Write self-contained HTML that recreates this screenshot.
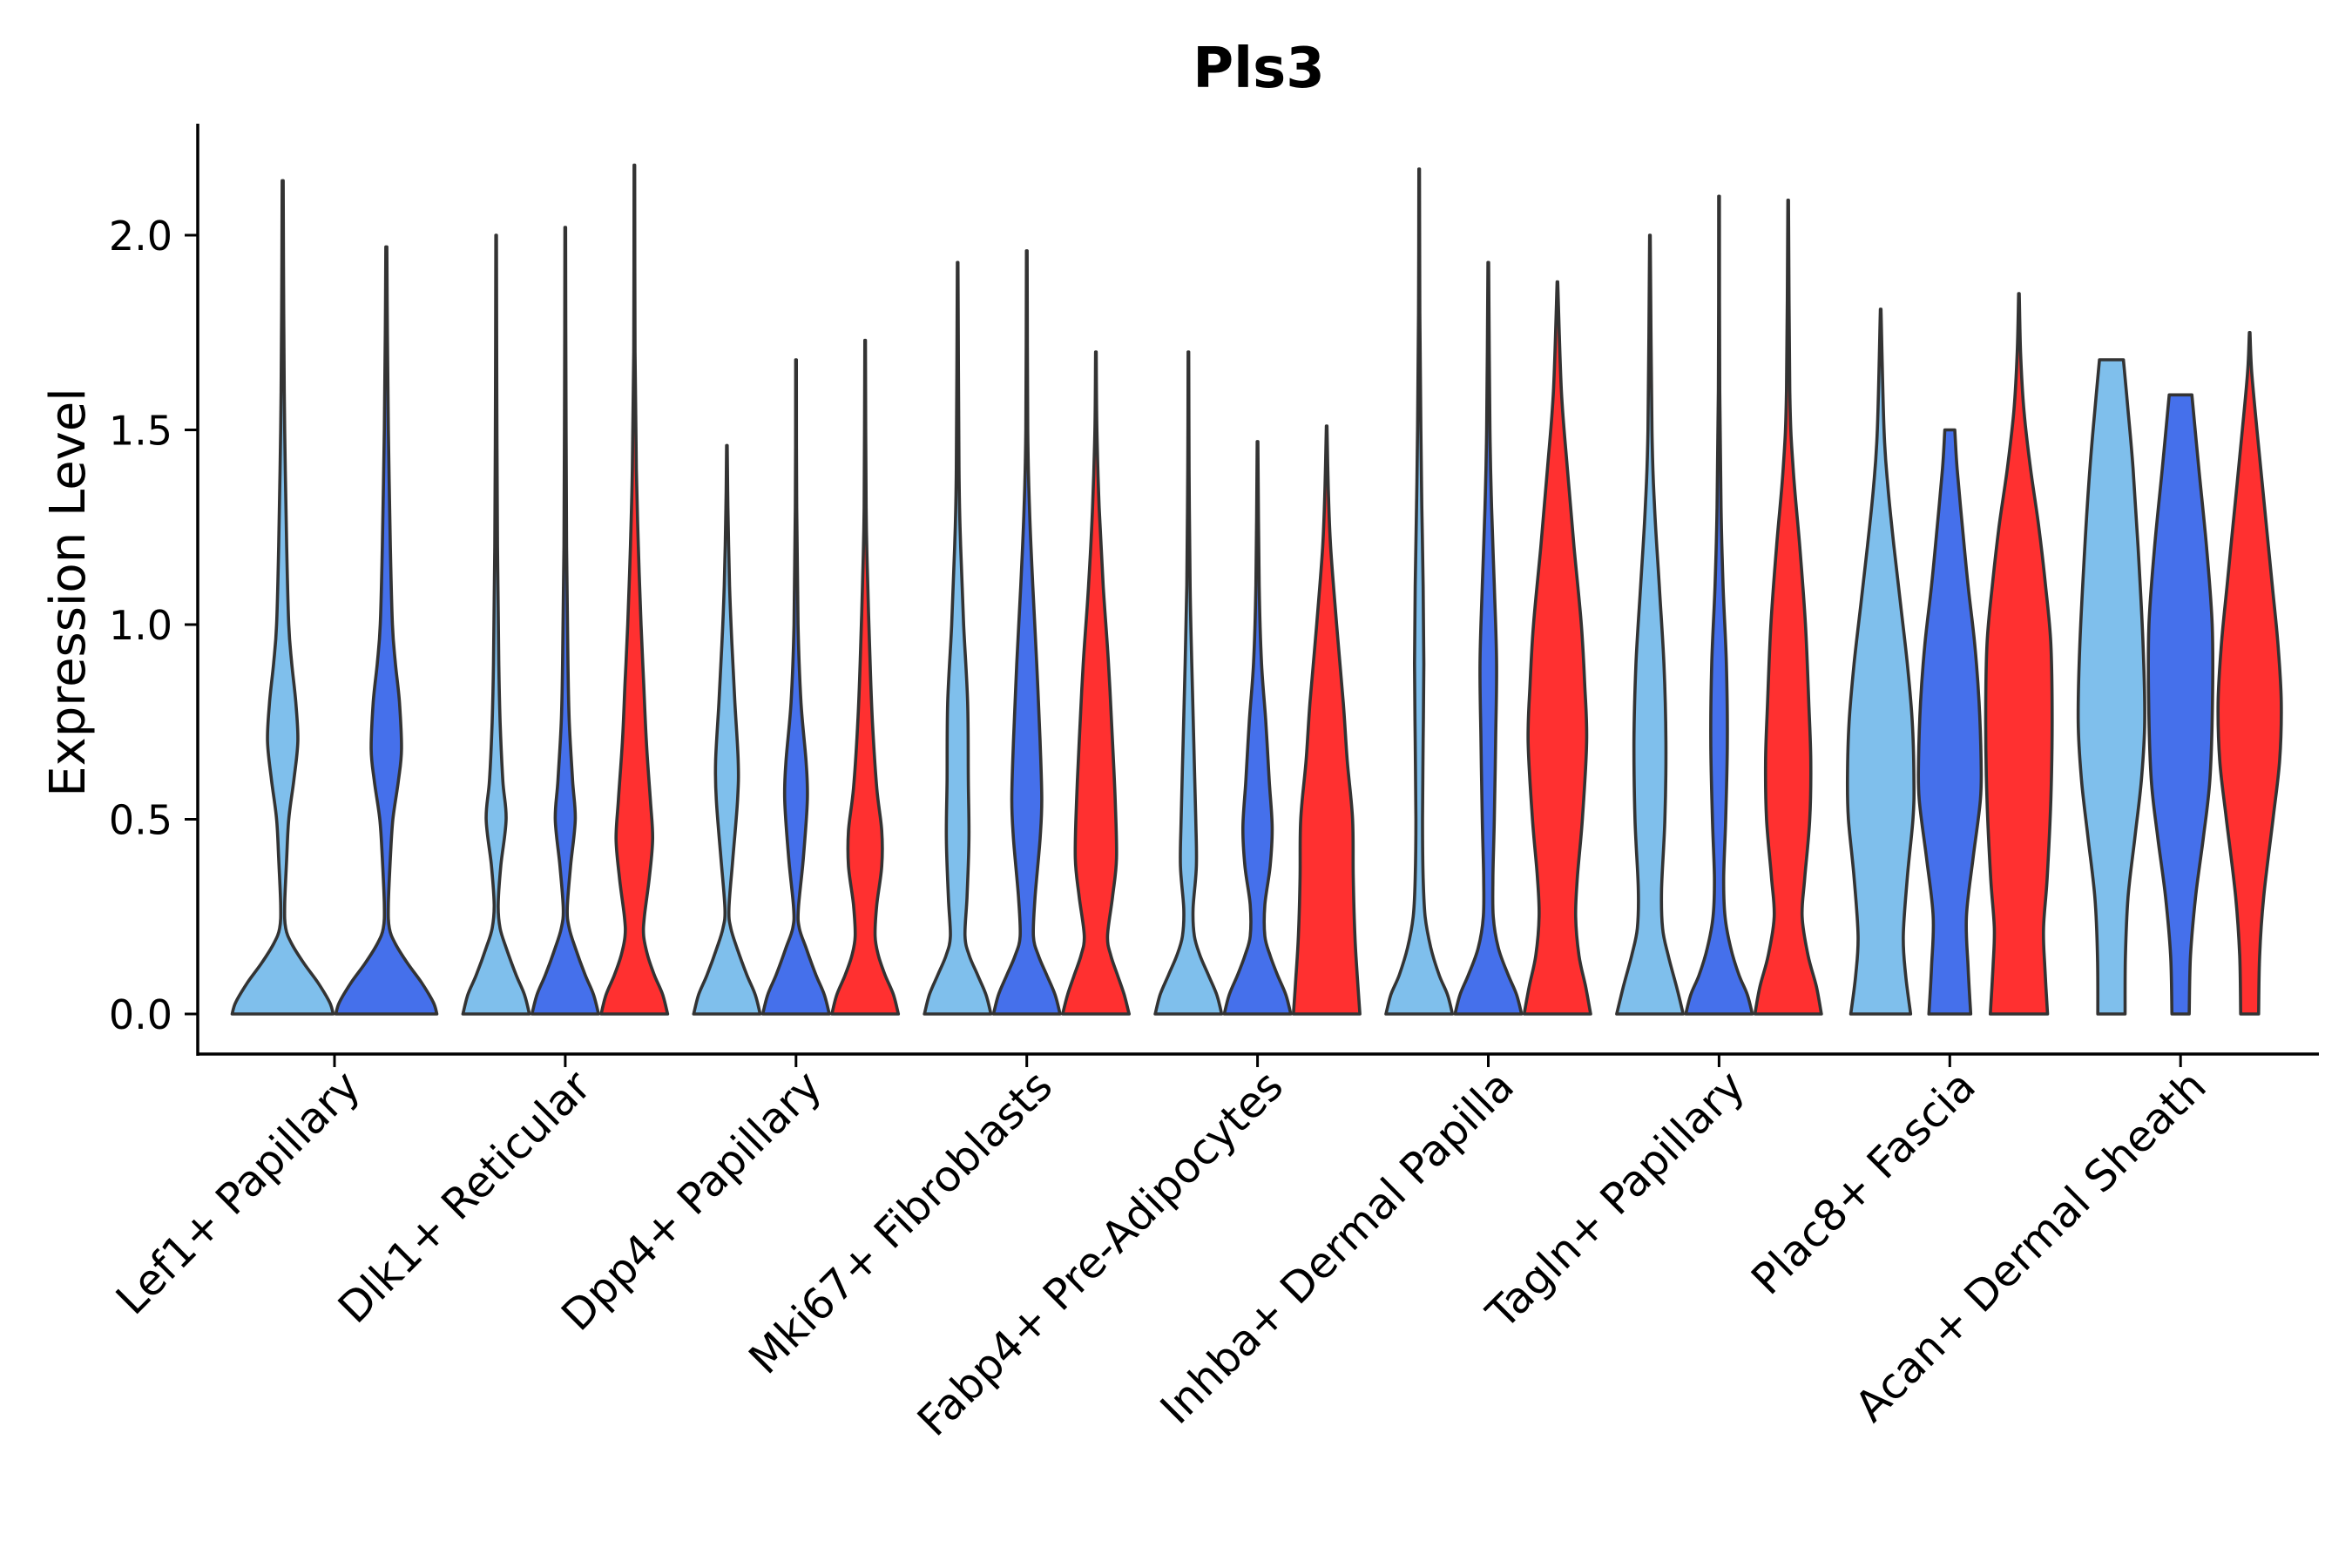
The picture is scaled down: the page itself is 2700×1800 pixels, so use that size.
<!DOCTYPE html>
<html><head><meta charset="utf-8"><style>
body{margin:0;background:#fff}
svg{display:block}
text{font-family:"DejaVu Sans","Liberation Sans",sans-serif;fill:#000}
</style></head><body>
<svg id="chart" width="2700" height="1800" viewBox="0 0 2700 1800" xmlns="http://www.w3.org/2000/svg">
<text x="1445" y="100" text-anchor="middle" font-size="64" font-weight="bold">Pls3</text>
<text transform="translate(97,680) rotate(-90)" text-anchor="middle" font-size="56">Expression Level</text>
<g id="violins"></g>
<g id="axes"></g>
</svg>
<script>
const categories = ["Lef1+ Papillary","Dlk1+ Reticular","Dpp4+ Papillary","Mki67+ Fibroblasts","Fabp4+ Pre-Adipocytes","Inhba+ Dermal Papilla","Tagln+ Papillary","Plac8+ Fascia","Acan+ Dermal Sheath"];
const seriesNames = ["light","dark","red"];
const yTicks = [0, 0.5, 1.0, 1.5, 2.0];
const yTickLabels = ["0.0","0.5","1.0","1.5","2.0"];
// profiles: [expression, relative half-width]
const lef1Light = [[0,1],[0.03,0.93],[0.08,0.7],[0.13,0.42],[0.18,0.18],[0.22,0.06],[0.28,0.04],[0.4,0.08],[0.5,0.12],[0.6,0.22],[0.7,0.3],[0.8,0.26],[0.9,0.18],[1.0,0.12],[1.2,0.08],[1.5,0.04],[1.8,0.02],[2.14,0.01]];
const lef1Dark = [[0,1],[0.03,0.93],[0.08,0.7],[0.13,0.42],[0.18,0.18],[0.22,0.06],[0.28,0.04],[0.4,0.08],[0.5,0.13],[0.6,0.24],[0.68,0.3],[0.8,0.26],[0.9,0.18],[1.0,0.12],[1.2,0.08],[1.5,0.04],[1.75,0.02],[1.97,0.01]];
const dlk1Light = [[0,1],[0.05,0.85],[0.1,0.6],[0.17,0.3],[0.22,0.12],[0.28,0.06],[0.38,0.14],[0.5,0.3],[0.6,0.2],[0.75,0.12],[0.9,0.08],[1.2,0.04],[1.6,0.02],[2.0,0.01]];
const dlk1Dark = [[0,1],[0.05,0.85],[0.1,0.6],[0.17,0.3],[0.22,0.12],[0.27,0.06],[0.38,0.16],[0.5,0.3],[0.6,0.22],[0.75,0.12],[0.9,0.08],[1.2,0.04],[1.6,0.02],[2.02,0.01]];
const dlk1Red = [[0,1],[0.05,0.85],[0.1,0.6],[0.15,0.4],[0.2,0.28],[0.25,0.3],[0.35,0.45],[0.45,0.55],[0.55,0.48],[0.7,0.36],[0.85,0.28],[1.0,0.2],[1.2,0.12],[1.4,0.06],[1.7,0.02],[2.18,0.01]];
const dpp4Light = [[0,1],[0.05,0.85],[0.1,0.6],[0.17,0.3],[0.22,0.12],[0.27,0.06],[0.4,0.18],[0.55,0.32],[0.65,0.34],[0.8,0.24],[0.95,0.15],[1.1,0.08],[1.3,0.03],[1.46,0.01]];
const dpp4Dark = [[0,1],[0.05,0.85],[0.1,0.6],[0.17,0.3],[0.22,0.1],[0.27,0.07],[0.4,0.22],[0.55,0.34],[0.65,0.3],[0.8,0.15],[1.0,0.06],[1.3,0.02],[1.68,0.01]];
const dpp4Red = [[0,1],[0.05,0.85],[0.1,0.6],[0.15,0.4],[0.2,0.3],[0.28,0.35],[0.38,0.5],[0.47,0.5],[0.58,0.35],[0.75,0.22],[0.9,0.15],[1.1,0.08],[1.3,0.03],[1.73,0.01]];
const mki67Light = [[0,1],[0.05,0.85],[0.1,0.6],[0.15,0.35],[0.2,0.22],[0.3,0.28],[0.45,0.34],[0.6,0.32],[0.8,0.3],[1.0,0.18],[1.2,0.09],[1.4,0.04],[1.93,0.01]];
const mki67Dark = [[0,1],[0.05,0.85],[0.1,0.6],[0.15,0.35],[0.2,0.2],[0.3,0.25],[0.45,0.4],[0.55,0.45],[0.7,0.4],[0.9,0.3],[1.1,0.18],[1.3,0.08],[1.5,0.03],[1.96,0.01]];
const mki67Red = [[0,1],[0.05,0.85],[0.1,0.65],[0.15,0.45],[0.2,0.35],[0.3,0.5],[0.4,0.62],[0.55,0.58],[0.7,0.5],[0.9,0.38],[1.1,0.22],[1.3,0.1],[1.5,0.03],[1.7,0.01]];
const fabp4Light = [[0,1],[0.05,0.85],[0.1,0.6],[0.15,0.35],[0.2,0.18],[0.27,0.14],[0.38,0.24],[0.5,0.22],[0.7,0.16],[0.9,0.1],[1.1,0.05],[1.4,0.02],[1.7,0.01]];
const fabp4Dark = [[0,1],[0.05,0.85],[0.1,0.6],[0.15,0.38],[0.2,0.22],[0.28,0.22],[0.38,0.38],[0.48,0.44],[0.6,0.35],[0.75,0.25],[0.9,0.12],[1.1,0.05],[1.47,0.01]];
const fabp4Red = [[0,1],[0.1,0.92],[0.2,0.85],[0.35,0.8],[0.5,0.78],[0.65,0.62],[0.8,0.5],[1.0,0.3],[1.2,0.12],[1.35,0.05],[1.51,0.01]];
const inhbaLight = [[0,1],[0.05,0.85],[0.1,0.6],[0.17,0.35],[0.25,0.18],[0.35,0.12],[0.5,0.1],[0.7,0.12],[0.9,0.14],[1.1,0.12],[1.3,0.08],[1.5,0.05],[1.8,0.02],[2.17,0.01]];
const inhbaDark = [[0,1],[0.05,0.85],[0.1,0.6],[0.17,0.3],[0.25,0.15],[0.35,0.14],[0.5,0.18],[0.7,0.22],[0.9,0.25],[1.1,0.18],[1.3,0.1],[1.5,0.05],[1.93,0.01]];
const inhbaRed = [[0,1],[0.07,0.85],[0.15,0.65],[0.25,0.55],[0.35,0.6],[0.5,0.75],[0.7,0.88],[0.85,0.82],[1.0,0.72],[1.2,0.5],[1.4,0.3],[1.6,0.12],[1.88,0.01]];
const taglnLight = [[0,1],[0.07,0.8],[0.15,0.55],[0.22,0.38],[0.32,0.35],[0.5,0.45],[0.7,0.48],[0.9,0.42],[1.1,0.28],[1.3,0.14],[1.5,0.06],[2.0,0.01]];
const taglnDark = [[0,1],[0.05,0.85],[0.1,0.6],[0.17,0.35],[0.25,0.18],[0.35,0.14],[0.5,0.2],[0.7,0.25],[0.9,0.22],[1.1,0.12],[1.3,0.06],[1.6,0.02],[2.1,0.01]];
const taglnRed = [[0,1],[0.07,0.85],[0.15,0.6],[0.25,0.42],[0.35,0.5],[0.5,0.65],[0.65,0.68],[0.8,0.62],[1.0,0.52],[1.2,0.35],[1.4,0.15],[1.6,0.05],[2.09,0.01]];
const plac8Light = [[0,0.9],[0.1,0.75],[0.2,0.68],[0.35,0.8],[0.5,0.97],[0.6,1.0],[0.75,0.95],[0.9,0.8],[1.05,0.6],[1.2,0.4],[1.35,0.22],[1.5,0.1],[1.81,0.01]];
const plac8Dark = [[0,0.63],[0.12,0.55],[0.25,0.5],[0.4,0.7],[0.55,0.92],[0.65,0.94],[0.8,0.88],[0.95,0.75],[1.1,0.55],[1.25,0.38],[1.4,0.22],[1.5,0.15]];
const plac8Red = [[0,0.86],[0.12,0.78],[0.22,0.74],[0.35,0.85],[0.55,0.96],[0.75,1.0],[0.95,0.96],[1.1,0.8],[1.25,0.6],[1.4,0.35],[1.55,0.15],[1.7,0.05],[1.85,0.01]];
const acanLight = [[0,0.41],[0.15,0.42],[0.3,0.5],[0.45,0.7],[0.6,0.9],[0.75,1.0],[0.95,0.95],[1.2,0.8],[1.4,0.65],[1.55,0.5],[1.68,0.36]];
const acanDark = [[0,0.26],[0.15,0.3],[0.3,0.45],[0.45,0.68],[0.6,0.88],[0.8,0.96],[1.0,0.95],[1.2,0.78],[1.4,0.55],[1.59,0.34]];
const acanRed = [[0,0.27],[0.15,0.3],[0.3,0.42],[0.5,0.7],[0.65,0.9],[0.8,0.95],[0.95,0.85],[1.1,0.68],[1.3,0.45],[1.5,0.22],[1.65,0.06],[1.75,0.01]];
const groupProfiles = [
 [lef1Light, lef1Dark],
 [dlk1Light, dlk1Dark, dlk1Red],
 [dpp4Light, dpp4Dark, dpp4Red],
 [mki67Light, mki67Dark, mki67Red],
 [fabp4Light, fabp4Dark, fabp4Red],
 [inhbaLight, inhbaDark, inhbaRed],
 [taglnLight, taglnDark, taglnRed],
 [plac8Light, plac8Dark, plac8Red],
 [acanLight, acanDark, acanRed]
];
const groupSeries = [
 ["light","dark"],["light","dark","red"],["light","dark","red"],["light","dark","red"],["light","dark","red"],["light","dark","red"],["light","dark","red"],["light","dark","red"],["light","dark","red"]
];

const NS = "http://www.w3.org/2000/svg";
const colors = {light:"#7FBFEC", dark:"#4570EB", red:"#FF3030"};
const X0 = 384, XSTEP = 264.9, GROUPW = 238;
const Y0 = 1164, YUNIT = 447;
const xScale = i => X0 + i*XSTEP;
const yScale = v => Y0 - v*YUNIT;

function smoothPath(pts){
  let d = "";
  for (let i=0;i<pts.length-1;i++){
    const p0 = pts[Math.max(i-1,0)], p1 = pts[i], p2 = pts[i+1], p3 = pts[Math.min(i+2,pts.length-1)];
    const c1 = [p1[0]+(p2[0]-p0[0])/6, p1[1]+(p2[1]-p0[1])/6];
    const c2 = [p2[0]-(p3[0]-p1[0])/6, p2[1]-(p3[1]-p1[1])/6];
    d += ` C${c1[0].toFixed(1)},${c1[1].toFixed(1)} ${c2[0].toFixed(1)},${c2[1].toFixed(1)} ${p2[0].toFixed(1)},${p2[1].toFixed(1)}`;
  }
  return d;
}

const vg = document.getElementById("violins");
groupProfiles.forEach((profs, gi) => {
  const n = profs.length;
  const slot = GROUPW / n;
  profs.forEach((prof, si) => {
    const cx = xScale(gi) - GROUPW/2 + slot*(si+0.5);
    const hw = slot/2 - 1.5;
    const right = prof.map(p => [cx + p[1]*hw, yScale(p[0])]);
    const left = prof.slice().reverse().map(p => [cx - p[1]*hw, yScale(p[0])]);
    let d = `M${right[0][0].toFixed(1)},${right[0][1].toFixed(1)}` + smoothPath(right);
    d += ` L${left[0][0].toFixed(1)},${left[0][1].toFixed(1)}` + smoothPath(left) + " Z";
    const path = document.createElementNS(NS,"path");
    path.setAttribute("d", d);
    path.setAttribute("fill", colors[groupSeries[gi][si]]);
    path.setAttribute("stroke", "#333333");
    path.setAttribute("stroke-width", "3.6");
    path.setAttribute("stroke-linejoin", "round");
    
    
    vg.appendChild(path);
  });
});

const ag = document.getElementById("axes");
function line(x1,y1,x2,y2,w){
  const l = document.createElementNS(NS,"line");
  l.setAttribute("x1",x1);l.setAttribute("y1",y1);l.setAttribute("x2",x2);l.setAttribute("y2",y2);
  l.setAttribute("stroke","#000");l.setAttribute("stroke-width",w);
  ag.appendChild(l); return l;
}
const yAxis = line(227,142,227,1212,3.5);


const xAxis = line(225.5,1210,2662,1210,3.5);


yTicks.forEach((v,i) => {
  const t = line(212,yScale(v),227,yScale(v),3);
  
  
  const tx = document.createElementNS(NS,"text");
  tx.setAttribute("x",198); tx.setAttribute("y",yScale(v)+17);
  tx.setAttribute("text-anchor","end"); tx.setAttribute("font-size","46");
  tx.textContent = yTickLabels[i];
  
  
  ag.appendChild(tx);
});
categories.forEach((c,i) => {
  const x = xScale(i);
  const t = line(x,1210,x,1225,3);
  
  
  const tx = document.createElementNS(NS,"text");
  tx.setAttribute("transform",`translate(${x+32},${1250}) rotate(-45)`);
  tx.setAttribute("text-anchor","end"); tx.setAttribute("font-size","49");
  tx.textContent = c;
  
  
  ag.appendChild(tx);
});
</script>
</body></html>
